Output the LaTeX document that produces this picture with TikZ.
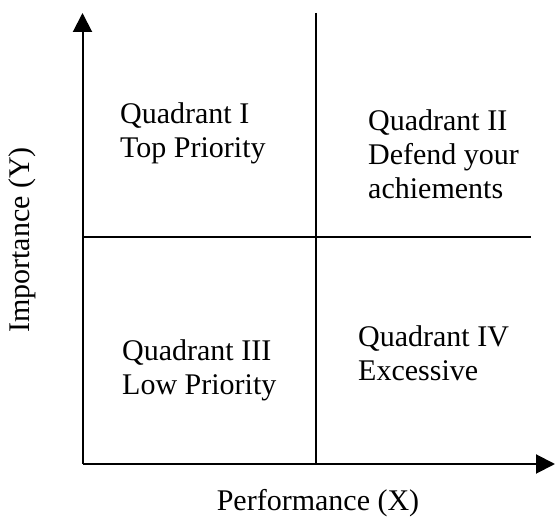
\documentclass[tikz,border=0pt]{standalone}
\usepackage{fontspec}
\setmainfont{Liberation Serif}
\usetikzlibrary{arrows.meta}
\begin{document}
\begin{tikzpicture}[x=1pt,y=-1pt,
  axis/.style={line width=2pt,-{Triangle[width=19pt,length=19pt]}},
  divider/.style={line width=2pt},
  qlabel/.style={anchor=north west,align=left,inner sep=0pt,
    font=\fontsize{30}{34}\selectfont},
  axislabel/.style={inner sep=0pt,font=\fontsize{30}{34}\selectfont}]
  \useasboundingbox (0,0) rectangle (555,521);
  % axes
  \coordinate (origin) at (82.5,464);
  \coordinate (ytip) at (82.5,13);
  \coordinate (xtip) at (555,464);
  \draw[axis] (origin) -- (ytip);
  \draw[axis] (origin) -- (xtip);
  % quadrant dividers
  \coordinate (vtop) at (315.7,13);
  \coordinate (vbot) at (315.7,464);
  \coordinate (hleft) at (82.5,237);
  \coordinate (hright) at (531,237);
  \draw[divider] (vtop) -- (vbot);
  \draw[divider] (hleft) -- (hright);
  % quadrant texts
  \node[qlabel] (q1) at (120,102) {Quadrant I\\Top Priority};
  \node[qlabel] (q2) at (368,109) {Quadrant II\\Defend your\\achiements};
  \node[qlabel] (q3) at (122,339) {Quadrant III\\Low Priority};
  \node[qlabel] (q4) at (358,325) {Quadrant IV\\Excessive};
  % axis titles
  \node[axislabel,rotate=90] (ylab) at (22,240) {Importance (Y)};
  \node[axislabel] (xlab) at (318,503) {Performance (X)};
\end{tikzpicture}
\end{document}
